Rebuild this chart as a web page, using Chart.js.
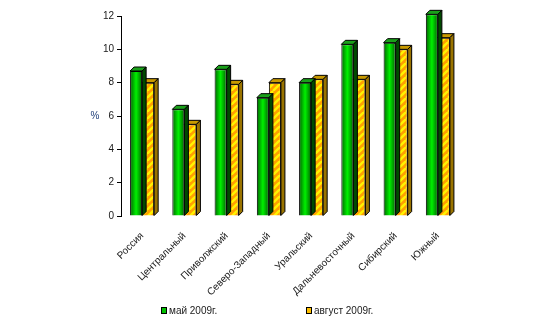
<!DOCTYPE html>
<html>
<head>
<meta charset="utf-8">
<script src="https://cdn.jsdelivr.net/npm/chart.js@4.4.1/dist/chart.umd.min.js"></script>
<style>
  html, body { margin: 0; padding: 0; background: #fff; }
  #wrap { width: 537px; height: 330px; }
</style>
</head>
<body>
<div id="wrap"><canvas id="bar-chart" width="537" height="330"></canvas></div>
<script>
// data
const regions = ['Россия', 'Центральный', 'Приволжский', 'Северо-Западный', 'Уральский', 'Дальневосточный', 'Сибирский', 'Южный'];
const may2009 = [8.7, 6.4, 8.8, 7.1, 8.0, 10.3, 10.4, 12.1];
const aug2009 = [8.0, 5.5, 7.9, 8.0, 8.2, 8.2, 10.0, 10.7];
const seriesNames = ['май 2009г.', 'август 2009г.'];
const yTicks = [0, 2, 4, 6, 8, 10, 12];

const CAT_PCT = 0.57;
const DX = 4, DY = 4;

// striped fill for the august bars
function stripes() {
  const s = 7;
  const c = document.createElement('canvas');
  c.width = s; c.height = s;
  const g = c.getContext('2d');
  g.fillStyle = '#ffa000';
  g.fillRect(0, 0, s, s);
  g.strokeStyle = '#fff200';
  g.lineWidth = 2.4;
  for (let x = -s; x <= s; x += s) {
    g.beginPath();
    g.moveTo(x, s);
    g.lineTo(x + s, 0);
    g.stroke();
  }
  return g.createPattern(c, 'repeat');
}
const stripePattern = stripes();

function greenFill(context) {
  const chart = context.chart;
  const xs = chart.scales.x;
  if (!xs || context.type !== 'data') return '#00b000';
  const c = xs.getPixelForValue(context.dataIndex);
  const bw = xs.width / regions.length * CAT_PCT / 2;
  if (!isFinite(c) || !isFinite(bw) || bw <= 0) return '#00b000';
  const g = chart.ctx.createLinearGradient(c - bw, 0, c, 0);
  g.addColorStop(0, '#006400');
  g.addColorStop(0.5, '#00f000');
  g.addColorStop(1, '#006400');
  return g;
}

// top and side faces for the 3d look
const faces = [
  { top: '#1aa01a', side: '#004a00' },
  { top: '#c89a00', side: '#9a7400' }
];

const bar3d = {
  id: 'bar3d',
  afterDatasetDraw(chart, args) {
    const ctx = chart.ctx;
    const f = faces[args.index];
    ctx.save();
    ctx.lineWidth = 1;
    ctx.strokeStyle = '#000';
    args.meta.data.forEach(function (bar) {
      const l = bar.x - bar.width / 2, r = bar.x + bar.width / 2;
      const t = bar.y, b = bar.base;
      ctx.fillStyle = f.top;
      ctx.beginPath();
      ctx.moveTo(l, t); ctx.lineTo(l + DX, t - DY); ctx.lineTo(r + DX, t - DY); ctx.lineTo(r, t);
      ctx.closePath(); ctx.fill(); ctx.stroke();
      ctx.fillStyle = f.side;
      ctx.beginPath();
      ctx.moveTo(r, t); ctx.lineTo(r + DX, t - DY); ctx.lineTo(r + DX, b - DY); ctx.lineTo(r, b);
      ctx.closePath(); ctx.fill(); ctx.stroke();
    });
    ctx.restore();
  },
  afterDraw(chart) {
    const ctx = chart.ctx;
    ctx.save();
    ctx.font = '10px "Liberation Sans", Arial, sans-serif';
    ctx.fillStyle = '#1f3f7a';
    ctx.textAlign = 'center';
    ctx.textBaseline = 'middle';
    ctx.fillText('%', 95, 116);
    // legend
    const items = [
      { x: 161, fill: '#00c000', text: seriesNames[0] },
      { x: 306, fill: '#ffc000', text: seriesNames[1] }
    ];
    ctx.textAlign = 'left';
    items.forEach(function (it) {
      ctx.fillStyle = it.fill;
      ctx.fillRect(it.x, 307, 5, 6);
      ctx.strokeStyle = '#000';
      ctx.strokeRect(it.x + 0.5, 307.5, 5, 6);
      ctx.fillStyle = '#1a1a1a';
      ctx.fillText(it.text, it.x + 8, 311);
    });
    ctx.restore();
  }
};

Chart.defaults.font.family = '"Liberation Sans", Arial, sans-serif';
Chart.defaults.font.size = 10;
Chart.defaults.color = '#1a1a1a';

new Chart(document.getElementById('bar-chart'), {
  type: 'bar',
  data: {
    labels: regions,
    datasets: [{
      label: seriesNames[0],
      data: may2009,
      backgroundColor: greenFill,
      borderColor: '#000',
      borderWidth: 1,
      clip: false
    }, {
      label: seriesNames[1],
      data: aug2009,
      backgroundColor: stripePattern,
      borderColor: '#000',
      borderWidth: 1,
      clip: false
    }]
  },
  options: {
    responsive: false,
    animation: false,
    categoryPercentage: CAT_PCT,
    barPercentage: 1,
    layout: { padding: { left: 0, right: 78, top: 16, bottom: 0 } },
    plugins: {
      legend: { display: false },
      tooltip: { enabled: false }
    },
    scales: {
      x: {
        grid: { display: false },
        border: { display: false },
        ticks: { maxRotation: 45, minRotation: 45, padding: 6, autoSkip: false },
        afterFit(scale) { scale.height = 114; }
      },
      y: {
        min: 0,
        max: 12,
        afterBuildTicks(scale) { scale.ticks = yTicks.map(v => ({ value: v })); },
        grid: { drawOnChartArea: false, drawTicks: true, tickLength: 4, color: '#000' },
        border: { display: true, color: '#000' },
        ticks: { padding: 3 },
        afterFit(scale) { scale.width = 121; }
      }
    }
  },
  plugins: [bar3d]
});
</script>
</body>
</html>
